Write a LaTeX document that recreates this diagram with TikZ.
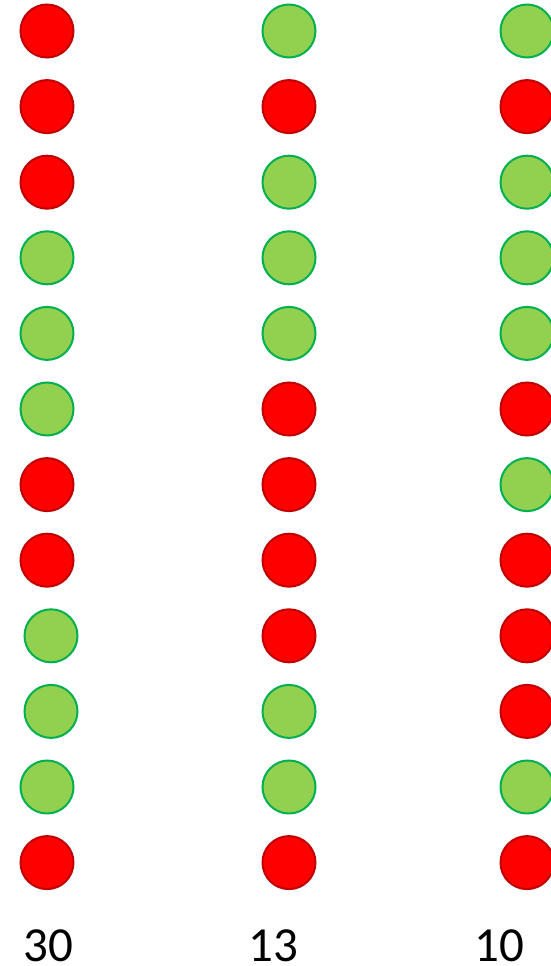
\documentclass[tikz,border=0pt]{standalone}
\usepackage{fontspec}
\setmainfont{Carlito}
\definecolor{dotred}{RGB}{255,0,0}
\definecolor{dotredline}{RGB}{192,0,0}
\definecolor{dotgreen}{RGB}{146,208,80}
\definecolor{dotgreenline}{RGB}{0,176,80}

\begin{document}
\begin{tikzpicture}[x=1pt,y=-1pt,
    reddot/.style={circle,draw=dotredline,fill=dotred,line width=2pt,
                   minimum size=53pt,inner sep=0pt},
    greendot/.style={circle,draw=dotgreenline,fill=dotgreen,line width=2pt,
                     minimum size=53pt,inner sep=0pt},
    total/.style={anchor=base,inner sep=0pt,font=\fontsize{49}{49}\selectfont}]
  \useasboundingbox (0,0) rectangle (551,966);
  % left column
  \foreach \i/\c/\x in {1/red/47,2/red/47,3/red/47,4/green/47,5/green/47,
      6/green/47,7/red/47,8/red/47,9/green/51,10/green/51,11/green/47,12/red/47}
    \node[\c dot] (a\i) at (\x, {31+(\i-1)*75.6}) {};
  % middle column
  \foreach \i/\c in {1/green,2/red,3/green,4/green,5/green,6/red,
      7/red,8/red,9/red,10/green,11/green,12/red}
    \node[\c dot] (b\i) at (289, {31+(\i-1)*75.6}) {};
  % right column
  \foreach \i/\c in {1/green,2/red,3/green,4/green,5/green,6/red,
      7/green,8/red,9/red,10/red,11/green,12/red}
    \node[\c dot] (c\i) at (527, {31+(\i-1)*75.6}) {};
  % totals
  \node[total] (asum) at (48, 961) {30};
  \node[total] (bsum) at (273, 961) {13};
  \node[total] (csum) at (499, 961) {10};
\end{tikzpicture}
\end{document}
